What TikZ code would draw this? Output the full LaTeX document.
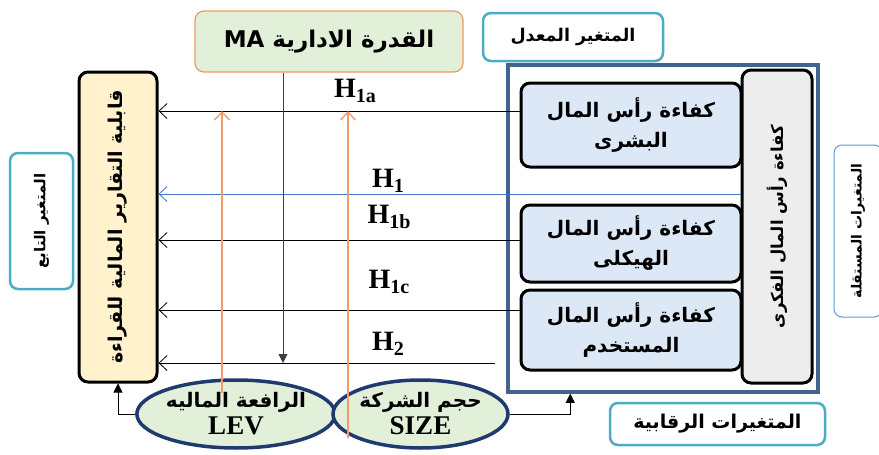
\documentclass[tikz,border=0pt]{standalone}
\usepackage{fontspec}
\setmainfont{Liberation Serif}
\newfontfamily\arabicfont[Script=Arabic]{DejaVu Sans}
\TeXXeTstate=1
\usetikzlibrary{arrows.meta,calc,shapes.geometric}
\definecolor{DepClr}{HTML}{FFF2CC}
\definecolor{TagClr}{HTML}{4BACC6}
\definecolor{IndClr}{HTML}{5B9BD5}
\definecolor{MaFill}{HTML}{E2F0D9}
\definecolor{MaLine}{HTML}{EE9A5E}
\definecolor{FrameClr}{HTML}{41648F}
\definecolor{CapFill}{HTML}{DCE8F5}
\definecolor{IcFill}{HTML}{EDEDED}
\definecolor{EllLine}{HTML}{1F3A6E}
\definecolor{CtrlClr}{HTML}{F29B6B}
\definecolor{H1Clr}{HTML}{4472C4}
\newcommand{\artxt}[1]{{\arabicfont\bfseries\beginR #1\endR}}
\newcommand{\hyplbl}[1]{\textbf{H}\raisebox{-0.35ex}{\fontsize{20}{20}\selectfont\bfseries #1}}

\begin{document}
\begin{tikzpicture}[x=1pt,y=-1pt,
  box/.style={draw,line width=3pt,rounded corners=9pt,align=center,inner sep=0pt},
  tag/.style={draw=TagClr,line width=2.5pt,rounded corners=8pt,fill=white,inner sep=0pt},
  ctrl/.style={ellipse,draw=EllLine,line width=3.5pt,fill=MaFill,inner sep=0pt,align=center,
    minimum height=68pt,font=\fontsize{20}{27}\selectfont},
  hyp/.style={font=\fontsize{28}{28}\selectfont},
  hline/.style={-{Straight Barb[length=8pt,width=15pt]},line width=.8pt},
  oline/.style={-{Straight Barb[length=8pt,width=15pt]},draw=CtrlClr,line width=1.4pt},
  farrow/.style={-{Triangle[length=9pt,width=9pt]},line width=.8pt}]
\useasboundingbox (0,0) rectangle (879,455);
\clip (0,0) rectangle (879,455);

% dependent variable
\node[box,fill=DepClr,minimum width=78pt,minimum height=310pt,font=\fontsize{19}{19}\selectfont]
  (dep) at (118,227) {\rotatebox{90}{\artxt{قابلية التقارير المالية للقراءة}}};
\node[tag,minimum width=63pt,minimum height=136pt,font=\fontsize{15}{15}\selectfont]
  (deptag) at (41.5,221) {\rotatebox{90}{\artxt{المتغير التابع}}};

% moderator
\node[box,draw=MaLine,line width=1.2pt,fill=MaFill,minimum width=268pt,minimum height=61pt,
  font=\fontsize{23}{23}\selectfont] (ma) at (329,41.5) {\artxt{القدرة الادارية \beginL MA\endL}};
\node[tag,minimum width=180pt,minimum height=48pt,font=\fontsize{17.5}{17.5}\selectfont]
  (modtag) at (573,37) {\artxt{المتغير المعدل}};

% independent variables
\node[draw=FrameClr,line width=3.5pt,minimum width=310pt,minimum height=327pt] (frame) at (663,228.5) {};
\node[box,fill=IcFill,minimum width=70pt,minimum height=313pt,font=\fontsize{16.5}{16.5}\selectfont]
  (ic) at (777,226.5) {\rotatebox{90}{\artxt{كفاءة رأس المال الفكرى}}};
\node[box,fill=CapFill,minimum width=220pt,minimum height=84pt,font=\fontsize{20}{30}\selectfont]
  (hc) at (631,125) {\artxt{كفاءة رأس المال}\\\artxt{البشرى}};
\node[box,fill=CapFill,minimum width=220pt,minimum height=77pt,font=\fontsize{20}{30}\selectfont]
  (sc) at (631,243.5) {\artxt{كفاءة رأس المال}\\\artxt{الهيكلى}};
\node[box,fill=CapFill,minimum width=220pt,minimum height=80pt,font=\fontsize{20}{30}\selectfont]
  (ce) at (631,330) {\artxt{كفاءة رأس المال}\\\artxt{المستخدم}};
\node[draw=IndClr,line width=1pt,rounded corners=8pt,fill=white,minimum width=48pt,minimum height=172pt,
  font=\fontsize{14}{14}\selectfont] (indtag) at (858,231) {\rotatebox{90}{\artxt{المتغيرات المستقلة}}};

% control variables
\node[ctrl,minimum width=188pt] (lev) at (236,414)
  {\artxt{الرافعة الماليه}\\{\fontsize{27}{27}\selectfont\bfseries LEV}};
\node[ctrl,minimum width=175pt] (size) at (420.5,414)
  {\artxt{حجم الشركة}\\{\fontsize{27}{27}\selectfont\bfseries SIZE}};
\node[tag,minimum width=215pt,minimum height=42pt,font=\fontsize{19}{19}\selectfont]
  (ctrltag) at (717.5,424) {\artxt{المتغيرات الرقابية}};

% hypotheses
\coordinate (yH1a) at (0,111);
\coordinate (yH1) at (0,194);
\coordinate (yH1b) at (0,240);
\coordinate (yH1c) at (0,310);
\coordinate (h2end) at (495,363);
\draw[hline] (hc.west |- yH1a) -- (dep.east |- yH1a);
\draw[hline,draw=H1Clr] (ic.west |- yH1) -- (dep.east |- yH1);
\draw[hline] (sc.west |- yH1b) -- (dep.east |- yH1b);
\draw[hline] (ce.west |- yH1c) -- (dep.east |- yH1c);
\draw[hline] (h2end) -- (dep.east |- h2end);

\node[hyp] (lH1a) at (355,91) {\hyplbl{1a}};
\node[hyp] (lH1) at (388,181) {\hyplbl{1}};
\node[hyp] (lH1b) at (389,217) {\hyplbl{1b}};
\node[hyp] (lH1c) at (389,282) {\hyplbl{1c}};
\node[hyp] (lH2) at (388,344) {\hyplbl{2}};

% moderator and control links
\coordinate (maend) at (283,363);
\draw[farrow,draw=black!75] (ma.south -| maend) -- (maend);
\coordinate (levin) at (222,393);
\coordinate (sizein) at (348,438);
\draw[oline] (levin) -- (levin |- yH1a);
\draw[oline] (sizein) -- (sizein |- yH1a);
\draw[farrow] (lev.west) -| (dep.south);
\draw[farrow] (size.east) -| ([xshift=64pt]frame.south west);
\end{tikzpicture}
\end{document}
